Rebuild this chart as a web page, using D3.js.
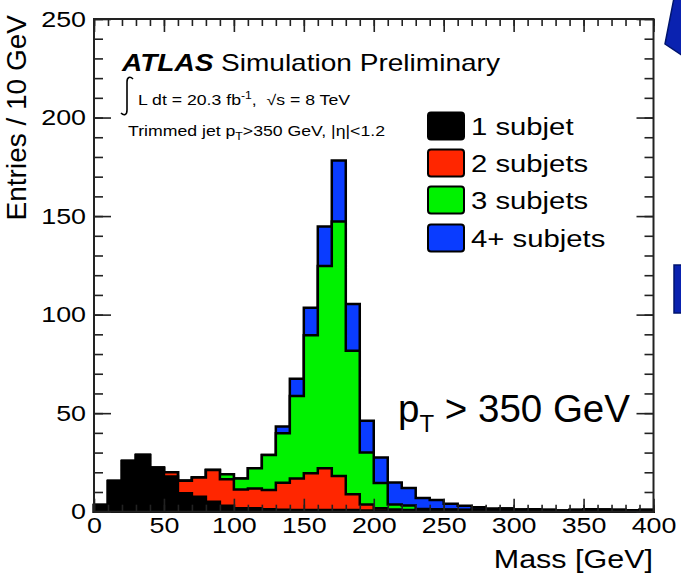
<!DOCTYPE html>
<html>
<head>
<meta charset="utf-8">
<script src="https://cdn.jsdelivr.net/npm/d3@7"></script>
<style>
  body { margin: 0; background: #fff; }
  svg { display: block; font-family: "Liberation Sans", Arial, Helvetica, sans-serif; }
</style>
</head>
<body>
<div id="chart"></div>
<script>
// bin low edges, 10 GeV wide
const massBins = [0, 10, 20, 30, 40, 50, 60, 70, 80, 90,
  100, 110, 120, 130, 140, 150, 160, 170, 180, 190,
  200, 210, 220, 230, 240, 250, 260, 270, 280, 290,
  300, 310, 320, 330, 340, 350, 360, 370, 380, 390];

const oneSubjet = [3.4, 15.6, 25.7, 28.8, 22.3, 17.8, 9.3, 7.6, 5.1, 3.0,
  1.7, 1.7, 1.2, 1.0, 0.8, 0.8, 0.8, 0.8, 0.8, 0.6,
  0.6, 0.6, 0.6, 0.7, 0.8, 0.8, 0.9, 1.0, 1.2, 1.5,
  1.0, 1.2, 0.8, 0.5, 0.8, 1.2, 1.0, 0.8, 0.6, 0.8];

const twoSubjets = [0, 0, 0, 0, 0, 2.2, 6.4, 9.7, 16.1, 13.5,
  9.6, 10.1, 9.8, 13.7, 16.1, 18.7, 21.2, 17.3, 8.0, 3.1,
  1.1, 0.5, 0.3, 0, 0, 0, 0, 0, 0, 0,
  0, 0, 0, 0, 0, 0, 0, 0, 0, 0];

const threeSubjets = [0, 0, 0, 0, 0, 0, 0, 0, 0, 2.5,
  5.6, 10.2, 17.8, 25.1, 41.8, 70.0, 102.7, 129.1, 72.9, 26.3,
  12.9, 2.5, 2.3, 0.7, 0.5, 0.3, 0, 0, 0, 0,
  0, 0, 0, 0, 0, 0, 0, 0, 0, 0];

const fourSubjets = [0, 0, 0, 0, 0, 0, 0, 0, 0, 0,
  0, 0, 0, 3.4, 8.7, 14.0, 20.0, 31.0, 23.7, 16.2,
  12.9, 11.2, 8.8, 5.5, 4.6, 2.9, 2.1, 1.2, 0.4, 0,
  0, 0, 0, 0, 0, 0, 0, 0, 0, 0];

const seriesNames = ["1 subjet", "2 subjets", "3 subjets", "4+ subjets"];
const seriesColors = ["#000000", "#ff2600", "#00f200", "#0a3cff"];
const xTicks = [0, 50, 100, 150, 200, 250, 300, 350, 400];
const yTicks = [0, 50, 100, 150, 200, 250];

const width = 681, height = 577;
const margin = { top: 19, left: 94, bottom: 65.3, right: 27.5 };
const sx = 1.22; // the ROOT picture is stretched sideways

const svg = d3.select("#chart").append("svg")
  .attr("width", width)
  .attr("height", height);

const x = d3.scaleLinear().domain([0, 400]).range([margin.left, width - margin.right]);
const y = d3.scaleLinear().domain([0, 250]).range([height - margin.bottom, margin.top]);

const rows = massBins.map((m, i) => ({
  m: m,
  s0: oneSubjet[i], s1: twoSubjets[i], s2: threeSubjets[i], s3: fourSubjets[i]
}));
const stacked = d3.stack().keys(["s0", "s1", "s2", "s3"])(rows);

// cumulative histograms, drawn from the top one down
const area = d3.area()
  .curve(d3.curveStepAfter)
  .x(d => x(d.m))
  .y0(y(0))
  .y1(d => y(d.v));

for (let k = stacked.length - 1; k >= 0; k--) {
  const pts = stacked[k].map(d => ({ m: d.data.m, v: d[1] }));
  pts.push({ m: 400, v: pts[pts.length - 1].v });
  svg.append("path")
    .attr("d", area(pts))
    .attr("fill", seriesColors[k])
    .attr("stroke", "#000")
    .attr("stroke-width", 2.5)
    .attr("stroke-linejoin", "miter");
}

// axes, ticks inward on all four sides
function styleAxis(g) {
  g.select(".domain").remove();
  g.selectAll("line").attr("stroke", "#222").attr("stroke-width", 1.6);
  g.selectAll("text").attr("fill", "#000").attr("font-size", 22)
    .attr("font-family", "Liberation Sans, Arial, sans-serif");
}

svg.append("g").attr("transform", `translate(0,${y(0)})`)
  .call(d3.axisBottom(x).tickValues(massBins.concat([400])).tickSize(-7).tickFormat(""))
  .call(styleAxis);
svg.append("g").attr("transform", `translate(0,${y(0)})`)
  .call(d3.axisBottom(x).tickValues(xTicks).tickSize(-13).tickPadding(6).tickFormat(d3.format("d")))
  .call(styleAxis)
  .call(g => g.selectAll("text").attr("transform", `scale(${sx},1)`));

svg.append("g").attr("transform", `translate(0,${y(250)})`)
  .call(d3.axisTop(x).tickValues(massBins.concat([400])).tickSize(-7).tickFormat(""))
  .call(styleAxis);
svg.append("g").attr("transform", `translate(0,${y(250)})`)
  .call(d3.axisTop(x).tickValues(xTicks).tickSize(-13).tickFormat(""))
  .call(styleAxis);

const yMinor = d3.range(0, 251, 10);
svg.append("g").attr("transform", `translate(${x(0)},0)`)
  .call(d3.axisLeft(y).tickValues(yMinor).tickSize(-9).tickFormat(""))
  .call(styleAxis);
svg.append("g").attr("transform", `translate(${x(0)},0)`)
  .call(d3.axisLeft(y).tickValues(yTicks).tickSize(-17).tickPadding(8).tickFormat(d3.format("d")))
  .call(styleAxis)
  .call(g => g.selectAll("text").attr("transform", `scale(${sx},1)`).attr("x", -8 / sx));

svg.append("g").attr("transform", `translate(${x(400)},0)`)
  .call(d3.axisRight(y).tickValues(yMinor).tickSize(-9).tickFormat(""))
  .call(styleAxis);
svg.append("g").attr("transform", `translate(${x(400)},0)`)
  .call(d3.axisRight(y).tickValues(yTicks).tickSize(-17).tickFormat(""))
  .call(styleAxis);

svg.append("rect")
  .attr("x", x(0)).attr("y", y(250))
  .attr("width", x(400) - x(0)).attr("height", y(0) - y(250))
  .attr("fill", "none").attr("stroke", "#222").attr("stroke-width", 2);

// axis titles
function stretchedText(px, py, size, anchor) {
  return svg.append("text")
    .attr("transform", `translate(${px},${py}) scale(${sx},1)`)
    .attr("font-size", size)
    .attr("text-anchor", anchor || "start")
    .attr("fill", "#000");
}

stretchedText(653, 568, 25, "end").text("Mass [GeV]");

svg.append("text")
  .attr("transform", "translate(26,15) rotate(-90)")
  .attr("text-anchor", "end")
  .attr("font-size", 28)
  .text("Entries / 10 GeV");

// ATLAS label block
stretchedText(122, 71, 23).attr("font-weight", "bold").attr("font-style", "italic").text("ATLAS");
stretchedText(221, 71, 23).text("Simulation Preliminary");

// integral sign
svg.append("path")
  .attr("d", "M133,79 C130,76 127,77 127,82 L127,110 C127,115 124,116 121,113")
  .attr("fill", "none").attr("stroke", "#000").attr("stroke-width", 1.6);

const lumi = stretchedText(138, 105, 14.5);
lumi.append("tspan").text("L dt = 20.3 fb");
lumi.append("tspan").attr("font-size", 10).attr("dy", -6).text("-1");
lumi.append("tspan").attr("dy", 6).text(",");
lumi.append("tspan").attr("dx", 8).text("\u221As = 8 TeV");

const cut = stretchedText(128, 136, 14.5);
cut.append("tspan").text("Trimmed jet p");
cut.append("tspan").attr("font-size", 10).attr("dy", 4).text("T");
cut.append("tspan").attr("dy", -4).text(">350 GeV, |\u03B7|<1.2");

// legend
const legendY = [126, 163, 200, 238];
seriesNames.forEach((name, i) => {
  svg.append("rect")
    .attr("x", 428).attr("y", legendY[i] - 13.5)
    .attr("width", 36).attr("height", 27)
    .attr("rx", 3)
    .attr("fill", seriesColors[i])
    .attr("stroke", "#000").attr("stroke-width", 2);
  stretchedText(471, legendY[i] + 8.5, 24).text(name);
});

// slide annotation
const ann = svg.append("text").attr("x", 398).attr("y", 422).attr("font-size", 38.5).attr("fill", "#000");
ann.append("tspan").text("p");
ann.append("tspan").attr("font-size", 24).attr("dy", 10).text("T");
ann.append("tspan").attr("dy", -10).text(" > 350 GeV");

// bits of neighbouring slide shapes at the right edge
svg.append("polygon")
  .attr("points", "674,-2 665,44 683,56 683,-2")
  .attr("fill", "#0a22b0").attr("stroke", "#00156e").attr("stroke-width", 1.5);
svg.append("rect")
  .attr("x", 674).attr("y", 265).attr("width", 10).attr("height", 48)
  .attr("fill", "#0a22b0").attr("stroke", "#00156e").attr("stroke-width", 1.5);
</script>
</body>
</html>
